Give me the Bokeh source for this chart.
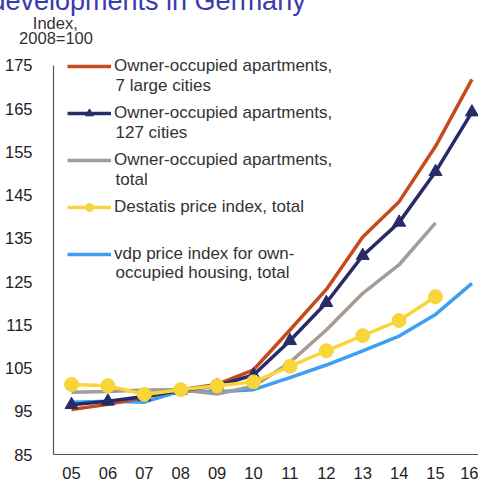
from bokeh.plotting import figure
from bokeh.models import Range1d, FixedTicker, Legend, LegendItem, Label, Title
from bokeh.embed import file_html
from bokeh.resources import INLINE

years = ["05", "06", "07", "08", "09", "10", "11", "12", "13", "14", "15", "16"]
cities7 = [95.4, 96.6, 98.2, 100.0, 101.2, 104.6, 113.8, 123.2, 135.3, 143.5, 156.3, 171.8]
cities127 = [96.5, 97.3, 98.4, 99.8, 100.9, 103.4, 111.3, 120.1, 131.0, 138.7, 150.4, 164.2]
apt_total = [99.4, 99.6, 99.9, 100.0, 99.0, 100.8, 106.3, 113.8, 122.3, 128.9, 138.6]
destatis = [101.2, 100.9, 98.9, 100.0, 100.9, 101.8, 105.4, 109.0, 112.5, 116.0, 121.5]
vdp = [97.1, 97.3, 97.1, 99.7, 99.5, 100.0, 102.8, 105.7, 109.0, 112.4, 117.4, 124.6]
y_ticks = [85, 95, 105, 115, 125, 135, 145, 155, 165, 175]

first_lines = [
    "Owner-occupied apartments,",
    "Owner-occupied apartments,",
    "Owner-occupied apartments,",
    "Destatis price index, total",
    "vdp price index for own-",
]
second_lines = ["7 large cities", "127 cities", "total", None, "occupied housing, total"]
axis_title = "\u00a0\u00a0\u00a0Index,\n2008=100"
slide_title = "developments in Germany"

FONT = "Liberation Sans"
xi = list(range(len(years)))

p = figure(width=478, height=481, output_backend="svg", toolbar_location=None,
           x_range=Range1d(-0.495, 11.18), y_range=Range1d(85, 176.846),
           min_border_left=53, min_border_right=0, min_border_top=57, min_border_bottom=26)
p.outline_line_color = None
p.grid.visible = False
p.background_fill_color = "white"

r_vdp = p.line(xi[:len(vdp)], vdp, line_color="#3D9FF2", line_width=3.5)
r_tot = p.line(xi[:len(apt_total)], apt_total, line_color="#A59D95", line_width=3.5)
r_c7 = p.line(xi[:len(cities7)], cities7, line_color="#C64A1C", line_width=3.5)
r_c127 = p.line(xi[:len(cities127)], cities127, line_color="#272C68", line_width=3.5)
r_c127m = p.scatter(xi[:len(cities127)], cities127, marker="triangle", size=13,
                    fill_color="#272C68", line_color="#272C68")
r_des = p.line(xi[:len(destatis)], destatis, line_color="#F8D53A", line_width=3.5)
r_desm = p.scatter(xi[:len(destatis)], destatis, marker="circle", size=14,
                   fill_color="#F8D53A", line_color="#F8D53A")

xa = p.xaxis[0]
xa.ticker = FixedTicker(ticks=xi)
xa.major_label_overrides = {i: y for i, y in enumerate(years)}
ya = p.yaxis[0]
ya.ticker = FixedTicker(ticks=y_ticks)
ya.bounds = (85, 175)
for ax in (xa, ya):
    ax.major_tick_line_color = None
    ax.minor_tick_line_color = None
    ax.axis_line_color = "#555555"
    ax.axis_line_width = 1.2
    ax.major_label_text_font = FONT
    ax.major_label_text_font_size = "16.5px"
    ax.major_label_text_color = "#222222"
xa.major_label_standoff = 6
ya.major_label_standoff = 15

renderer_sets = [[r_c7], [r_c127, r_c127m], [r_tot], [r_des, r_desm], [r_vdp]]
legend = Legend(items=[LegendItem(label=t, renderers=r) for t, r in zip(first_lines, renderer_sets)],
                location=(14, 190), glyph_width=44, glyph_height=20, label_standoff=3, spacing=27,
                padding=0, margin=0, label_height=20, background_fill_alpha=0, border_line_alpha=0,
                label_text_font=FONT, label_text_font_size="17px", label_text_color="#333333")
p.add_layout(legend, "center")

# second lines of the legend entries (y in data units of the row positions)
row_y = [170.38, 159.54, 148.69, None, 127.0]
for txt, yy in zip(second_lines, row_y):
    if txt:
        p.add_layout(Label(x=1.209, y=yy, text=txt, text_font=FONT, text_font_size="17px",
                           text_color="#333333", text_align="left", text_baseline="middle"))

p.add_layout(Title(text=axis_title, align="left", offset=-34.4, standoff=21, text_font=FONT,
                   text_font_size="16.5px", text_font_style="normal", text_color="#333333",
                   text_line_height=0.82), "above")
p.add_layout(Title(text=slide_title, align="left", offset=-63, standoff=-32,
                   vertical_align="top", text_font=FONT, text_font_size="27px",
                   text_font_style="normal", text_color="#3A3AB0"), "above")

open("out.html", "w").write(file_html(p, INLINE))
